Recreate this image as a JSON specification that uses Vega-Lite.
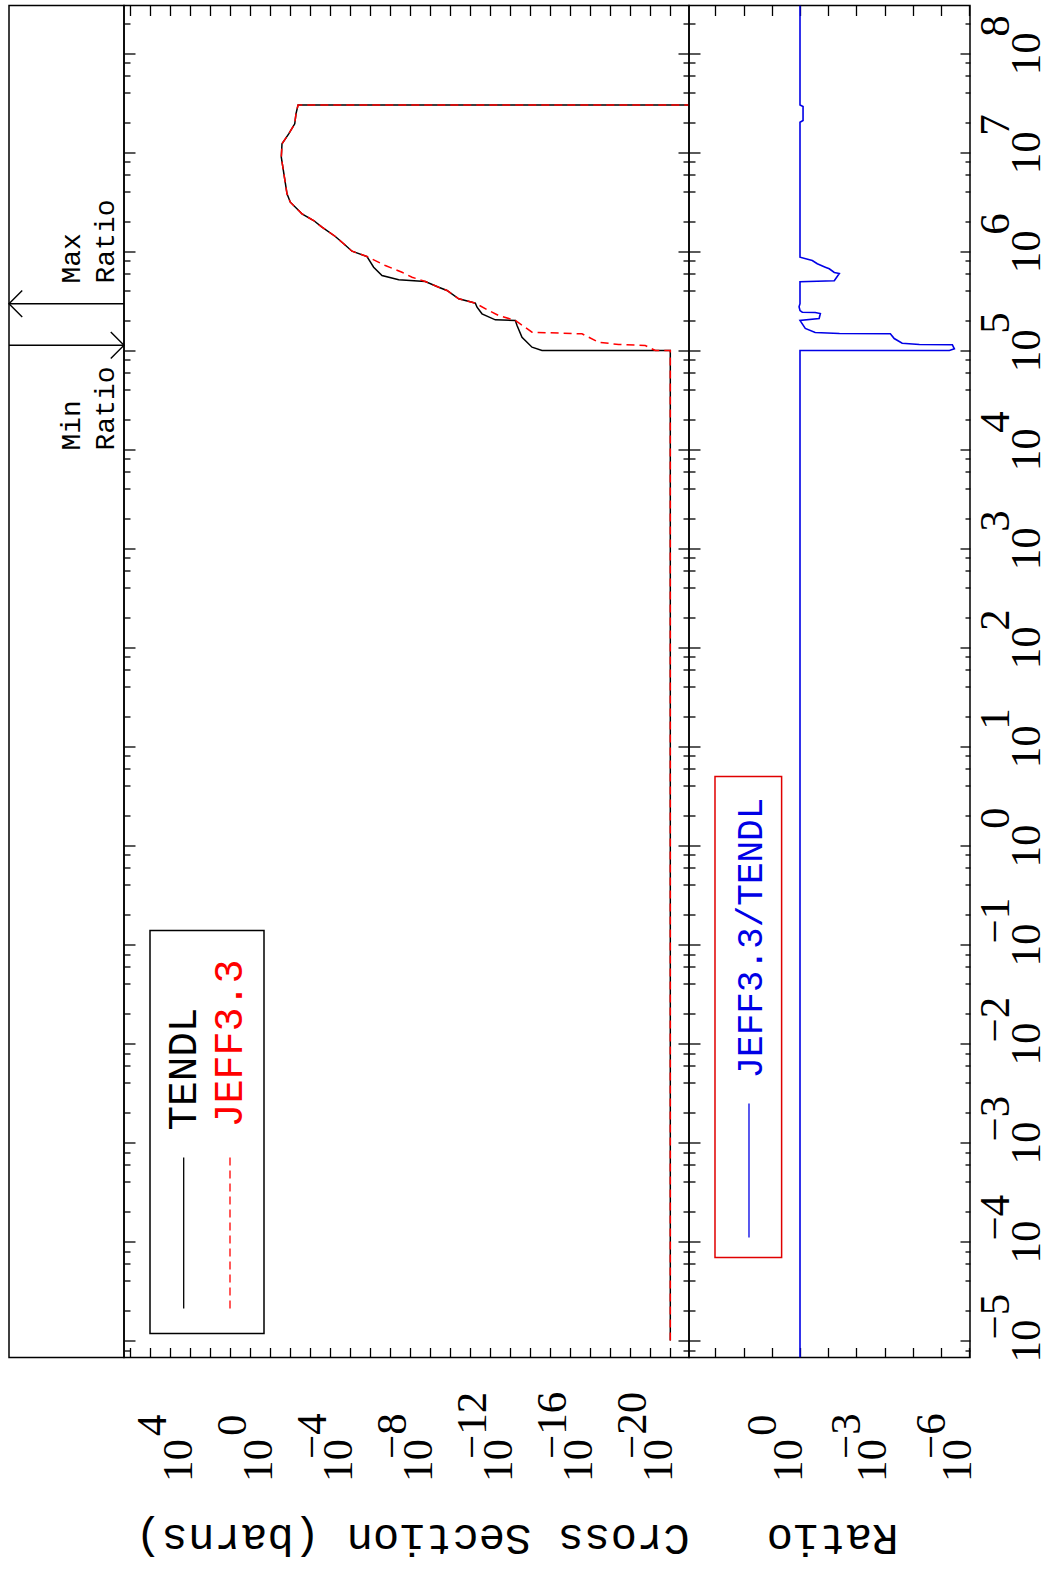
{
"$schema": "https://vega.github.io/schema/vega-lite/v6.json",
"background": "white",
"padding": {"left": 5, "top": 3.5, "right": 0, "bottom": 0},
"spacing": 0,
"bounds": "flush",
"config": {
  "view": {"stroke": "black", "strokeWidth": 1.5},
  "axis": {"domain": false, "grid": false, "labelOverlap": false, "labelFlush": false, "labelBound": false, "labelLimit": 0, "tickColor": "black", "tickWidth": 1.3, "labelColor": "black", "labelFont": "Liberation Serif", "labelFontSize": 43, "titleColor": "black", "titleFont": "Liberation Mono", "titleFontSize": 44, "titleFontWeight": "normal"}
},
"datasets": {
  "xs": [
    {"s": "TENDL", "E": 1e-5, "xs": 1e-20},
    {"s": "TENDL", "E": 99450, "xs": 1e-20},
    {"s": "TENDL", "E": 99450, "xs": 2.6e-14},
    {"s": "TENDL", "E": 107400, "xs": 8.2e-14},
    {"s": "TENDL", "E": 135500, "xs": 2.6e-13},
    {"s": "TENDL", "E": 177900, "xs": 4.6e-13},
    {"s": "TENDL", "E": 200000, "xs": 5.6e-13},
    {"s": "TENDL", "E": 203000, "xs": 5.6e-12},
    {"s": "TENDL", "E": 233400, "xs": 2.6e-11},
    {"s": "TENDL", "E": 272200, "xs": 4.6e-11},
    {"s": "TENDL", "E": 298800, "xs": 5.6e-11},
    {"s": "TENDL", "E": 305800, "xs": 8.2e-11},
    {"s": "TENDL", "E": 331000, "xs": 3.8e-10},
    {"s": "TENDL", "E": 401300, "xs": 1.46e-9},
    {"s": "TENDL", "E": 433300, "xs": 3.8e-9},
    {"s": "TENDL", "E": 494800, "xs": 1.78e-8},
    {"s": "TENDL", "E": 514800, "xs": 3.8e-7},
    {"s": "TENDL", "E": 569000, "xs": 2.6e-6},
    {"s": "TENDL", "E": 690000, "xs": 6.8e-6},
    {"s": "TENDL", "E": 885000, "xs": 1.46e-5},
    {"s": "TENDL", "E": 1001000, "xs": 8.2e-5},
    {"s": "TENDL", "E": 1189000, "xs": 2.14e-4},
    {"s": "TENDL", "E": 1409000, "xs": 5.6e-4},
    {"s": "TENDL", "E": 1749000, "xs": 2.6e-3},
    {"s": "TENDL", "E": 2044000, "xs": 6.8e-3},
    {"s": "TENDL", "E": 2388000, "xs": 0.026},
    {"s": "TENDL", "E": 2578000, "xs": 0.038},
    {"s": "TENDL", "E": 3128000, "xs": 0.1},
    {"s": "TENDL", "E": 3803000, "xs": 0.146},
    {"s": "TENDL", "E": 8910000, "xs": 0.282},
    {"s": "TENDL", "E": 12160000, "xs": 0.26},
    {"s": "TENDL", "E": 15350000, "xs": 0.12},
    {"s": "TENDL", "E": 19360000, "xs": 0.06},
    {"s": "TENDL", "E": 24430000, "xs": 0.052},
    {"s": "TENDL", "E": 30000000, "xs": 0.041},
    {"s": "TENDL", "E": 30000000, "xs": 1e-30},
    {"s": "JEFF3.3", "E": 1e-5, "xs": 1e-20},
    {"s": "JEFF3.3", "E": 99450, "xs": 1e-20},
    {"s": "JEFF3.3", "E": 99450, "xs": 5.6e-20},
    {"s": "JEFF3.3", "E": 111700, "xs": 1.78e-19},
    {"s": "JEFF3.3", "E": 114300, "xs": 3.8e-18},
    {"s": "JEFF3.3", "E": 120600, "xs": 3.8e-17},
    {"s": "JEFF3.3", "E": 135500, "xs": 1.2e-16},
    {"s": "JEFF3.3", "E": 146600, "xs": 2.6e-16},
    {"s": "JEFF3.3", "E": 152200, "xs": 8.2e-14},
    {"s": "JEFF3.3", "E": 200000, "xs": 5.6e-13},
    {"s": "JEFF3.3", "E": 224400, "xs": 3.8e-12},
    {"s": "JEFF3.3", "E": 252000, "xs": 1.2e-11},
    {"s": "JEFF3.3", "E": 298800, "xs": 5.6e-11},
    {"s": "JEFF3.3", "E": 305800, "xs": 8.2e-11},
    {"s": "JEFF3.3", "E": 331000, "xs": 3.8e-10},
    {"s": "JEFF3.3", "E": 401300, "xs": 1.46e-9},
    {"s": "JEFF3.3", "E": 433300, "xs": 3.8e-9},
    {"s": "JEFF3.3", "E": 494800, "xs": 1.78e-8},
    {"s": "JEFF3.3", "E": 547000, "xs": 8.2e-8},
    {"s": "JEFF3.3", "E": 614000, "xs": 2.6e-7},
    {"s": "JEFF3.3", "E": 718000, "xs": 1.78e-6},
    {"s": "JEFF3.3", "E": 885000, "xs": 1.46e-5},
    {"s": "JEFF3.3", "E": 1001000, "xs": 8.2e-5},
    {"s": "JEFF3.3", "E": 1189000, "xs": 2.14e-4},
    {"s": "JEFF3.3", "E": 1409000, "xs": 5.6e-4},
    {"s": "JEFF3.3", "E": 1749000, "xs": 2.6e-3},
    {"s": "JEFF3.3", "E": 2044000, "xs": 6.8e-3},
    {"s": "JEFF3.3", "E": 2388000, "xs": 0.026},
    {"s": "JEFF3.3", "E": 2578000, "xs": 0.038},
    {"s": "JEFF3.3", "E": 3128000, "xs": 0.1},
    {"s": "JEFF3.3", "E": 3803000, "xs": 0.146},
    {"s": "JEFF3.3", "E": 8910000, "xs": 0.282},
    {"s": "JEFF3.3", "E": 12160000, "xs": 0.26},
    {"s": "JEFF3.3", "E": 15350000, "xs": 0.12},
    {"s": "JEFF3.3", "E": 19360000, "xs": 0.06},
    {"s": "JEFF3.3", "E": 24430000, "xs": 0.052},
    {"s": "JEFF3.3", "E": 30000000, "xs": 0.041},
    {"s": "JEFF3.3", "E": 30000000, "xs": 1e-30}
  ],
  "ratio": [
    {"E": 6.74e-6, "r": 1},
    {"E": 99450, "r": 1},
    {"E": 99450, "r": 5.1e-6},
    {"E": 103400, "r": 3.4e-6},
    {"E": 113500, "r": 4.0e-6},
    {"E": 114400, "r": 5.9e-5},
    {"E": 117800, "r": 2.4e-4},
    {"E": 131400, "r": 4.6e-4},
    {"E": 146600, "r": 6.3e-4},
    {"E": 147700, "r": 0.04},
    {"E": 151200, "r": 0.29},
    {"E": 166000, "r": 0.65},
    {"E": 200000, "r": 1},
    {"E": 209300, "r": 0.21},
    {"E": 235000, "r": 0.19},
    {"E": 240600, "r": 0.29},
    {"E": 242300, "r": 0.83},
    {"E": 252000, "r": 1},
    {"E": 275000, "r": 1.08},
    {"E": 295000, "r": 1},
    {"E": 491400, "r": 1},
    {"E": 503000, "r": 0.061},
    {"E": 596000, "r": 0.0405},
    {"E": 610000, "r": 0.061},
    {"E": 665000, "r": 0.092},
    {"E": 690000, "r": 0.127},
    {"E": 747000, "r": 0.244},
    {"E": 806000, "r": 0.367},
    {"E": 871000, "r": 1},
    {"E": 20100000, "r": 1},
    {"E": 20900000, "r": 0.78},
    {"E": 28950000, "r": 0.78},
    {"E": 30000000, "r": 1},
    {"E": 303000000, "r": 1}
  ]
},
"hconcat": [
  {
    "width": 115, "height": 1352,
    "layer": [
      {"data": {"values": [{}]}, "mark": {"type": "rule", "color": "black", "strokeWidth": 1.4},
       "encoding": {"x": {"datum": 0, "type": "quantitative", "scale": {"domain": [0, 1], "nice": false}, "axis": null}, "x2": {"datum": 1},
                    "y": {"datum": 294600, "type": "quantitative", "scale": {"type": "log", "domain": [6.7346e-6, 3.0318e8], "nice": false}, "axis": null}}},
      {"data": {"values": [{}]}, "mark": {"type": "rule", "color": "black", "strokeWidth": 1.4},
       "encoding": {"x": {"datum": 0, "type": "quantitative", "axis": null}, "x2": {"datum": 1},
                    "y": {"datum": 112500, "type": "quantitative", "axis": null}}},
      {"data": {"values": [{}]}, "mark": {"type": "point", "shape": "M 1 -1 L 0 0 L 1 1", "size": 700, "filled": false, "stroke": "black", "strokeWidth": 1.4, "opacity": 1},
       "encoding": {"x": {"datum": 0, "type": "quantitative", "axis": null}, "y": {"datum": 294600, "type": "quantitative", "axis": null}}},
      {"data": {"values": [{}]}, "mark": {"type": "point", "shape": "M -1 -1 L 0 0 L -1 1", "size": 700, "filled": false, "stroke": "black", "strokeWidth": 1.4, "opacity": 1},
       "encoding": {"x": {"datum": 1, "type": "quantitative", "axis": null}, "y": {"datum": 112500, "type": "quantitative", "axis": null}}},
      {"data": {"values": [{}]}, "mark": {"type": "text", "text": "Max", "angle": 270, "align": "left", "baseline": "middle", "font": "Liberation Mono", "fontSize": 28, "color": "black"},
       "encoding": {"x": {"datum": 0.548, "type": "quantitative", "axis": null}, "y": {"datum": 472400, "type": "quantitative", "axis": null}}},
      {"data": {"values": [{}]}, "mark": {"type": "text", "text": "Ratio", "angle": 270, "align": "left", "baseline": "middle", "font": "Liberation Mono", "fontSize": 28, "color": "black"},
       "encoding": {"x": {"datum": 0.843, "type": "quantitative", "axis": null}, "y": {"datum": 472400, "type": "quantitative", "axis": null}}},
      {"data": {"values": [{}]}, "mark": {"type": "text", "text": "Min", "angle": 270, "align": "left", "baseline": "middle", "font": "Liberation Mono", "fontSize": 28, "color": "black"},
       "encoding": {"x": {"datum": 0.548, "type": "quantitative", "axis": null}, "y": {"datum": 9716, "type": "quantitative", "axis": null}}},
      {"data": {"values": [{}]}, "mark": {"type": "text", "text": "Ratio", "angle": 270, "align": "left", "baseline": "middle", "font": "Liberation Mono", "fontSize": 28, "color": "black"},
       "encoding": {"x": {"datum": 0.843, "type": "quantitative", "axis": null}, "y": {"datum": 9716, "type": "quantitative", "axis": null}}}
    ]
  },
  {
    "width": 565, "height": 1352,
    "resolve": {"axis": {"x": "independent", "y": "independent"}},
    "layer": [
      {"data": {"name": "xs"}, "transform": [{"filter": "datum.s === 'TENDL'"}],
       "mark": {"type": "line", "color": "black", "strokeWidth": 1.5, "clip": true},
       "encoding": {
         "x": {"field": "xs", "type": "quantitative", "scale": {"type": "log", "domain": [1.1614e-21, 2.0654e7], "nice": false, "reverse": true},
               "axis": {"orient": "bottom", "values": [1e4, 1, 1e-4, 1e-8, 1e-12, 1e-16, 1e-20], "ticks": false, "labelExpr": "'10'", "labelAngle": 270, "labelAlign": "left", "labelBaseline": "alphabetic", "labelPadding": 124, "labelOffset": 1,
                        "title": "Cross Section (barns)", "titleAngle": 180, "titleAlign": "center", "titleBaseline": "middle", "titleX": 288, "titleY": 180}},
         "y": {"field": "E", "type": "quantitative", "scale": {"type": "log", "domain": [6.7346e-6, 3.0318e8], "nice": false},
               "axis": {"orient": "left", "values": [1e-5, 1e-4, 1e-3, 0.01, 0.1, 1, 10, 100, 1000, 1e4, 1e5, 1e6, 1e7, 1e8], "labels": false, "ticks": true, "tickSize": 11, "offset": -11, "title": null}},
         "order": {"value": null}
       }},
      {"data": {"name": "xs"}, "transform": [{"filter": "datum.s === 'JEFF3.3'"}],
       "mark": {"type": "line", "color": "#ff0000", "strokeWidth": 1.5, "strokeDash": [8, 5], "clip": true},
       "encoding": {
         "x": {"field": "xs", "type": "quantitative",
               "axis": {"orient": "bottom", "values": [1e4, 1], "ticks": false, "labelExpr": "'' + round(log(datum.value)/LN10)", "labelAngle": 270, "labelAlign": "left", "labelBaseline": "alphabetic", "labelPadding": 78, "labelOffset": -25, "title": null}},
         "y": {"field": "E", "type": "quantitative",
               "axis": {"orient": "left", "values": [8e-6, 2e-5, 4e-5, 6e-5, 8e-5, 2e-4, 4e-4, 6e-4, 8e-4, 0.002, 0.004, 0.006, 0.008, 0.02, 0.04, 0.06, 0.08, 0.2, 0.4, 0.6, 0.8, 2, 4, 6, 8, 20, 40, 60, 80, 200, 400, 600, 800, 2000, 4000, 6000, 8000, 2e4, 4e4, 6e4, 8e4, 2e5, 4e5, 6e5, 8e5, 2e6, 4e6, 6e6, 8e6, 2e7, 4e7, 6e7, 8e7, 2e8], "labels": false, "ticks": true, "tickSize": 6, "offset": -6, "title": null}},
         "order": {"value": null}
       }},
      {"data": {"values": [{}]}, "mark": {"type": "point", "opacity": 0},
       "encoding": {
         "x": {"datum": 1, "type": "quantitative",
               "axis": {"orient": "bottom", "values": [1e-4, 1e-8, 1e-12, 1e-16, 1e-20], "ticks": false, "labelExpr": "'\u2212' + abs(round(log(datum.value)/LN10))", "labelAngle": 270, "labelAlign": "left", "labelBaseline": "alphabetic", "labelPadding": 101, "labelOffset": -25, "title": null}},
         "y": {"datum": 1, "type": "quantitative",
               "axis": {"orient": "right", "values": [1e-5, 1e-4, 1e-3, 0.01, 0.1, 1, 10, 100, 1000, 1e4, 1e5, 1e6, 1e7, 1e8], "labels": false, "ticks": true, "tickSize": 11, "offset": -11, "title": null}}
       }},
      {"data": {"values": [{}]}, "mark": {"type": "point", "opacity": 0},
       "encoding": {
         "x": {"datum": 1, "type": "quantitative",
               "axis": {"orient": "top", "values": [1e7, 1e6, 1e5, 1e4, 1e3, 100, 10, 1, 0.1, 0.01, 1e-3, 1e-4, 1e-5, 1e-6, 1e-7, 1e-8, 1e-9, 1e-10, 1e-11, 1e-12, 1e-13, 1e-14, 1e-15, 1e-16, 1e-17, 1e-18, 1e-19, 1e-20], "labels": false, "ticks": true, "tickSize": 10, "offset": -10, "title": null}},
         "y": {"datum": 1, "type": "quantitative",
               "axis": {"orient": "right", "values": [8e-6, 2e-5, 4e-5, 6e-5, 8e-5, 2e-4, 4e-4, 6e-4, 8e-4, 0.002, 0.004, 0.006, 0.008, 0.02, 0.04, 0.06, 0.08, 0.2, 0.4, 0.6, 0.8, 2, 4, 6, 8, 20, 40, 60, 80, 200, 400, 600, 800, 2000, 4000, 6000, 8000, 2e4, 4e4, 6e4, 8e4, 2e5, 4e5, 6e5, 8e5, 2e6, 4e6, 6e6, 8e6, 2e7, 4e7, 6e7, 8e7, 2e8], "labels": false, "ticks": true, "tickSize": 6, "offset": -6, "title": null}}
       }},
      {"data": {"values": [{}]}, "mark": {"type": "point", "opacity": 0},
       "encoding": {
         "x": {"datum": 1, "type": "quantitative",
               "axis": {"orient": "bottom", "values": [1e7, 1e6, 1e5, 1e4, 1e3, 100, 10, 1, 0.1, 0.01, 1e-3, 1e-4, 1e-5, 1e-6, 1e-7, 1e-8, 1e-9, 1e-10, 1e-11, 1e-12, 1e-13, 1e-14, 1e-15, 1e-16, 1e-17, 1e-18, 1e-19, 1e-20], "labels": false, "ticks": true, "tickSize": 10, "offset": -10, "title": null}},
         "y": {"datum": 1, "type": "quantitative", "axis": null}
       }},
      {"data": {"values": [{}]}, "mark": {"type": "rect", "filled": false, "stroke": "black", "strokeWidth": 1.5},
       "encoding": {"x": {"datum": 1035000, "type": "quantitative", "axis": null}, "x2": {"datum": 2.065},
                    "y": {"datum": 0.138, "type": "quantitative", "axis": null}, "y2": {"datum": 1.175e-5}}},
      {"data": {"values": [{}]}, "mark": {"type": "rule", "color": "black", "strokeWidth": 1.3},
       "encoding": {"x": {"datum": 21400, "type": "quantitative", "axis": null},
                    "y": {"datum": 7.03e-4, "type": "quantitative", "axis": null}, "y2": {"datum": 2.1e-5}}},
      {"data": {"values": [{}]}, "mark": {"type": "rule", "color": "#ff0000", "strokeWidth": 1.3, "strokeDash": [8, 5]},
       "encoding": {"x": {"datum": 103.5, "type": "quantitative", "axis": null},
                    "y": {"datum": 7.03e-4, "type": "quantitative", "axis": null}, "y2": {"datum": 2.1e-5}}},
      {"data": {"values": [{}]}, "mark": {"type": "text", "text": "TENDL", "angle": 270, "align": "left", "baseline": "middle", "font": "Liberation Mono", "fontSize": 41, "color": "black"},
       "encoding": {"x": {"datum": 21000, "type": "quantitative", "axis": null}, "y": {"datum": 1.318e-3, "type": "quantitative", "axis": null}}},
      {"data": {"values": [{}]}, "mark": {"type": "text", "text": "JEFF3.3", "angle": 270, "align": "left", "baseline": "middle", "font": "Liberation Mono", "fontSize": 40, "color": "#ff0000"},
       "encoding": {"x": {"datum": 103.5, "type": "quantitative", "axis": null}, "y": {"datum": 1.415e-3, "type": "quantitative", "axis": null}}}
    ]
  },
  {
    "width": 281, "height": 1352,
    "resolve": {"axis": {"x": "independent", "y": "independent"}},
    "layer": [
      {"data": {"name": "ratio"},
       "mark": {"type": "line", "color": "#0000e6", "strokeWidth": 1.6, "clip": true},
       "encoding": {
         "x": {"field": "r", "type": "quantitative", "scale": {"type": "log", "domain": [9.506e-7, 8551], "nice": false, "reverse": true},
               "axis": {"orient": "bottom", "values": [1, 1e-3, 1e-6], "ticks": false, "labelExpr": "'10'", "labelAngle": 270, "labelAlign": "left", "labelBaseline": "alphabetic", "labelPadding": 124, "labelOffset": 1,
                        "title": "Ratio", "titleAngle": 180, "titleAlign": "center", "titleBaseline": "middle", "titleX": 143, "titleY": 180}},
         "y": {"field": "E", "type": "quantitative", "scale": {"type": "log", "domain": [6.7346e-6, 3.0318e8], "nice": false},
               "axis": {"orient": "right", "values": [1e-5, 1e-4, 1e-3, 0.01, 0.1, 1, 10, 100, 1000, 1e4, 1e5, 1e6, 1e7, 1e8], "ticks": false, "labelExpr": "'10'", "labelAngle": 270, "labelAlign": "center", "labelBaseline": "alphabetic", "labelPadding": 69, "title": null}},
         "order": {"value": null}
       }},
      {"data": {"values": [{}]}, "mark": {"type": "point", "opacity": 0},
       "encoding": {
         "x": {"datum": 1, "type": "quantitative",
               "axis": {"orient": "bottom", "values": [1], "ticks": false, "labelExpr": "'' + round(log(datum.value)/LN10)", "labelAngle": 270, "labelAlign": "left", "labelBaseline": "alphabetic", "labelPadding": 78, "labelOffset": -25, "title": null}},
         "y": {"datum": 1, "type": "quantitative",
               "axis": {"orient": "right", "values": [1, 10, 100, 1000, 1e4, 1e5, 1e6, 1e7, 1e8], "ticks": false, "labelExpr": "'' + round(log(datum.value)/LN10)", "labelAngle": 270, "labelAlign": "left", "labelBaseline": "alphabetic", "labelPadding": 38, "labelOffset": -17, "title": null}}
       }},
      {"data": {"values": [{}]}, "mark": {"type": "point", "opacity": 0},
       "encoding": {
         "x": {"datum": 1, "type": "quantitative",
               "axis": {"orient": "bottom", "values": [1e-3, 1e-6], "ticks": false, "labelExpr": "'\u2212' + abs(round(log(datum.value)/LN10))", "labelAngle": 270, "labelAlign": "left", "labelBaseline": "alphabetic", "labelPadding": 101, "labelOffset": -25, "title": null}},
         "y": {"datum": 1, "type": "quantitative",
               "axis": {"orient": "right", "values": [1e-5, 1e-4, 1e-3, 0.01, 0.1], "ticks": false, "labelExpr": "'\u2212' + abs(round(log(datum.value)/LN10))", "labelAngle": 270, "labelAlign": "left", "labelBaseline": "alphabetic", "labelPadding": 38, "labelOffset": -1.5, "title": null}}
       }},
      {"data": {"values": [{}]}, "mark": {"type": "point", "opacity": 0},
       "encoding": {
         "x": {"datum": 1, "type": "quantitative",
               "axis": {"orient": "top", "values": [1000, 100, 10, 1, 0.1, 0.01, 1e-3, 1e-4, 1e-5, 1e-6], "labels": false, "ticks": true, "tickSize": 10, "offset": -10, "title": null}},
         "y": {"datum": 1, "type": "quantitative",
               "axis": {"orient": "left", "values": [1e-5, 1e-4, 1e-3, 0.01, 0.1, 1, 10, 100, 1000, 1e4, 1e5, 1e6, 1e7, 1e8], "labels": false, "ticks": true, "tickSize": 11, "offset": -11, "title": null}}
       }},
      {"data": {"values": [{}]}, "mark": {"type": "point", "opacity": 0},
       "encoding": {
         "x": {"datum": 1, "type": "quantitative",
               "axis": {"orient": "bottom", "values": [1000, 100, 10, 1, 0.1, 0.01, 1e-3, 1e-4, 1e-5, 1e-6], "labels": false, "ticks": true, "tickSize": 10, "offset": -10, "title": null}},
         "y": {"datum": 1, "type": "quantitative",
               "axis": {"orient": "left", "values": [8e-6, 2e-5, 4e-5, 6e-5, 8e-5, 2e-4, 4e-4, 6e-4, 8e-4, 0.002, 0.004, 0.006, 0.008, 0.02, 0.04, 0.06, 0.08, 0.2, 0.4, 0.6, 0.8, 2, 4, 6, 8, 20, 40, 60, 80, 200, 400, 600, 800, 2000, 4000, 6000, 8000, 2e4, 4e4, 6e4, 8e4, 2e5, 4e5, 6e5, 8e5, 2e6, 4e6, 6e6, 8e6, 2e7, 4e7, 6e7, 8e7, 2e8], "labels": false, "ticks": true, "tickSize": 6, "offset": -6, "title": null}}
       }},
      {"data": {"values": [{}]}, "mark": {"type": "point", "opacity": 0},
       "encoding": {
         "x": {"datum": 1, "type": "quantitative", "axis": null},
         "y": {"datum": 1, "type": "quantitative",
               "axis": {"orient": "right", "values": [1e-5, 1e-4, 1e-3, 0.01, 0.1, 1, 10, 100, 1000, 1e4, 1e5, 1e6, 1e7, 1e8], "labels": false, "ticks": true, "tickSize": 10, "offset": -10, "title": null}}
       }},
      {"data": {"values": [{}]}, "mark": {"type": "point", "opacity": 0},
       "encoding": {
         "x": {"datum": 1, "type": "quantitative", "axis": null},
         "y": {"datum": 1, "type": "quantitative",
               "axis": {"orient": "right", "values": [8e-6, 2e-5, 4e-5, 6e-5, 8e-5, 2e-4, 4e-4, 6e-4, 8e-4, 0.002, 0.004, 0.006, 0.008, 0.02, 0.04, 0.06, 0.08, 0.2, 0.4, 0.6, 0.8, 2, 4, 6, 8, 20, 40, 60, 80, 200, 400, 600, 800, 2000, 4000, 6000, 8000, 2e4, 4e4, 6e4, 8e4, 2e5, 4e5, 6e5, 8e5, 2e6, 4e6, 6e6, 8e6, 2e7, 4e7, 6e7, 8e7, 2e8], "labels": false, "ticks": true, "tickSize": 5, "offset": -5, "title": null}}
       }},
      {"data": {"values": [{}]}, "mark": {"type": "rect", "filled": false, "stroke": "#e00000", "strokeWidth": 1.5},
       "encoding": {"x": {"datum": 1026, "type": "quantitative", "axis": null}, "x2": {"datum": 4.48},
                    "y": {"datum": 4.96, "type": "quantitative", "axis": null}, "y2": {"datum": 6.87e-5}}},
      {"data": {"values": [{}]}, "mark": {"type": "rule", "color": "#0000e6", "strokeWidth": 1.3},
       "encoding": {"x": {"datum": 64.1, "type": "quantitative", "axis": null},
                    "y": {"datum": 2.47e-3, "type": "quantitative", "axis": null}, "y2": {"datum": 1.096e-4}}},
      {"data": {"values": [{}]}, "mark": {"type": "text", "text": "JEFF3.3/TENDL", "angle": 270, "align": "left", "baseline": "middle", "font": "Liberation Mono", "fontSize": 36, "color": "#0000e6"},
       "encoding": {"x": {"datum": 53.1, "type": "quantitative", "axis": null}, "y": {"datum": 4.42e-3, "type": "quantitative", "axis": null}}}
    ]
  }
]
}
